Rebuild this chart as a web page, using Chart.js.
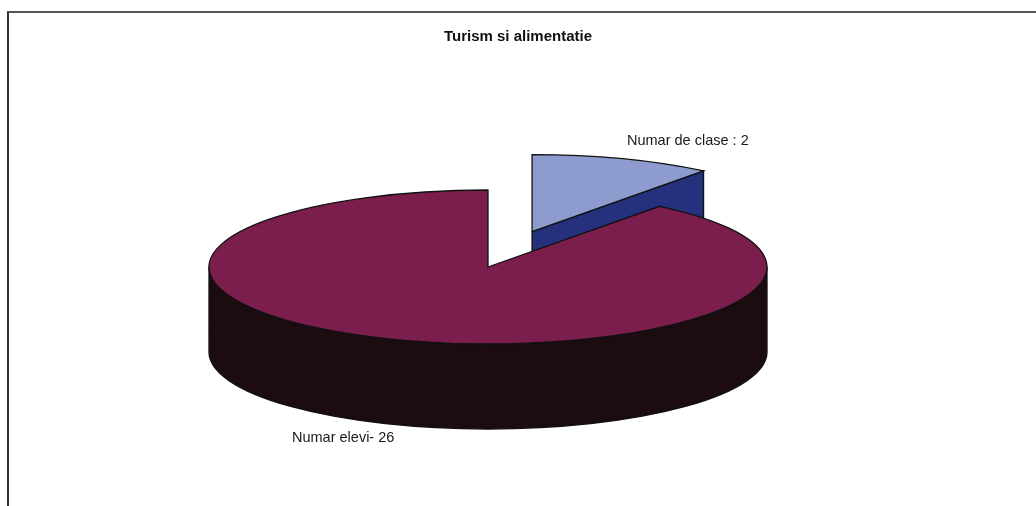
<!DOCTYPE html>
<html lang="ro">
<head>
  <meta charset="UTF-8">
  <title>Turism si alimentatie</title>
  <script src="https://cdn.jsdelivr.net/npm/chart.js"></script>
  <style>
    html, body { margin: 0; padding: 0; background: #fff; overflow: hidden; }
    #frame { position: absolute; left: 7px; top: 11px; right: 0; bottom: 0; border-left: 2px solid #333; border-top: 2px solid #555; }
    canvas { position: absolute; left: 0; top: 0; }
  </style>
</head>
<body>
  <div id="frame"></div>
  <canvas id="pie" width="1036" height="506"></canvas>

  <script>
    const chartTitle = 'Turism si alimentatie';
    const categories = ['Numar de clase : 2', 'Numar elevi- 26'];
    // Wedge sizes as measured on the picture (small wedge sweeps about 38 degrees),
    // which is wider than the 2 : 26 printed in its label
    const wedgeShares = [2.95, 25.05];
    const topColors = ['#8e9bcf', '#7b1e4e'];
    const wallColors = ['#25317c', '#1c0c10'];
    const explode = [0.486, 0];

    // Where the flat pie ends up on the page once it is tilted
    const tilt = { cx: 488, cy: 267, rx: 279, ry: 77, depth: 85 };
    const labelSpots = [{ x: 627, y: 141 }, { x: 292, y: 438 }];

    function projection(chart, arc) {
      const area = chart.chartArea;
      const ox = (area.left + area.right) / 2;
      const oy = (area.top + area.bottom) / 2;
      const sx = tilt.rx / arc.outerRadius;
      const sy = tilt.ry / arc.outerRadius;
      return { ox, oy, sx, sy, x: tilt.cx + (arc.x - ox) * sx, y: tilt.cy + (arc.y - oy) * sy };
    }

    const tiltedPie = {
      id: 'tiltedPie',
      afterDatasetsUpdate(chart) {
        // pull the exploded wedge out along its middle angle
        chart.getDatasetMeta(0).data.forEach((arc, i) => {
          const mid = (arc.startAngle + arc.endAngle) / 2;
          arc.x += Math.cos(mid) * explode[i] * arc.outerRadius;
          arc.y += Math.sin(mid) * explode[i] * arc.outerRadius;
        });
      },
      beforeDatasetsDraw(chart) {
        const ctx = chart.ctx;
        ctx.save();
        ctx.lineWidth = 1.3;
        ctx.strokeStyle = '#111';
        chart.getDatasetMeta(0).data.forEach((arc, i) => {
          const p = projection(chart, arc);
          ctx.beginPath();
          if (explode[i] > 0) {
            // cut face of the pulled-out wedge
            const ex = p.x + Math.cos(arc.endAngle) * tilt.rx;
            const ey = p.y + Math.sin(arc.endAngle) * tilt.ry;
            ctx.moveTo(p.x, p.y);
            ctx.lineTo(ex, ey);
            ctx.lineTo(ex, ey + tilt.depth);
            ctx.lineTo(p.x, p.y + tilt.depth);
          } else {
            // front half of the rim
            ctx.ellipse(p.x, p.y, tilt.rx, tilt.ry, 0, 0, Math.PI);
            ctx.ellipse(p.x, p.y + tilt.depth, tilt.rx, tilt.ry, 0, Math.PI, 0, true);
          }
          ctx.closePath();
          ctx.fillStyle = wallColors[i];
          ctx.fill();
          ctx.stroke();
        });
        ctx.restore();
      },
      beforeDatasetDraw(chart) {
        const ctx = chart.ctx;
        const p = projection(chart, chart.getDatasetMeta(0).data[1]);
        ctx.save();
        ctx.translate(tilt.cx, tilt.cy);
        ctx.scale(p.sx, p.sy);
        ctx.translate(-p.ox, -p.oy);
      },
      afterDatasetDraw(chart) {
        chart.ctx.restore();
      },
      afterDatasetsDraw(chart) {
        const ctx = chart.ctx;
        ctx.save();
        ctx.lineWidth = 1.3;
        ctx.strokeStyle = '#111';
        chart.getDatasetMeta(0).data.forEach(arc => {
          const p = projection(chart, arc);
          ctx.beginPath();
          ctx.moveTo(p.x, p.y);
          ctx.ellipse(p.x, p.y, tilt.rx, tilt.ry, 0, arc.startAngle, arc.endAngle);
          ctx.closePath();
          ctx.stroke();
        });
        ctx.fillStyle = '#1a1a1a';
        ctx.font = '14.5px "Liberation Sans", Arial, sans-serif';
        ctx.textBaseline = 'middle';
        categories.forEach((label, i) => {
          ctx.fillText(label, labelSpots[i].x, labelSpots[i].y);
        });
        ctx.restore();
      }
    };

    new Chart(document.getElementById('pie'), {
      type: 'pie',
      plugins: [tiltedPie],
      data: {
        labels: categories,
        datasets: [{
          data: wedgeShares,
          backgroundColor: topColors,
          borderWidth: 0,
          clip: false
        }]
      },
      options: {
        responsive: false,
        animation: false,
        events: [],
        plugins: {
          legend: { display: false },
          tooltip: { enabled: false },
          title: {
            display: true,
            text: chartTitle,
            color: '#111',
            font: { family: '"Liberation Sans", Arial, sans-serif', size: 15, weight: 'bold' },
            padding: { top: 28, bottom: 20 }
          }
        }
      }
    });
  </script>
</body>
</html>
